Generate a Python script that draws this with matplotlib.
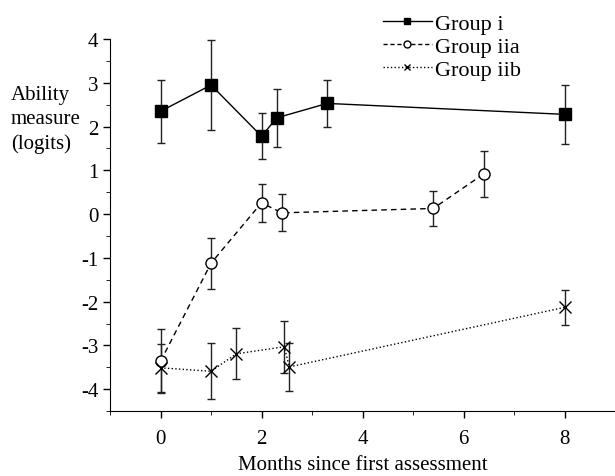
import matplotlib.pyplot as plt
from matplotlib.lines import Line2D

# valeurs (logits)
x_i = [0, 1, 2, 2.3, 3.3, 8]
y_i = [2.35, 2.95, 1.78, 2.2, 2.53, 2.28]
e_i = [0.72, 1.03, 0.53, 0.67, 0.53, 0.67]

x_iia = [0, 1, 2, 2.4, 5.4, 6.4]
y_iia = [-3.36, -1.12, 0.26, 0.03, 0.13, 0.92]
e_iia = [0.73, 0.58, 0.44, 0.42, 0.4, 0.53]

x_iib = [0, 1, 1.5, 2.45, 2.55, 8]
y_iib = [-3.51, -3.59, -3.19, -3.03, -3.49, -2.13]
e_iib = [0.55, 0.64, 0.58, 0.6, 0.55, 0.4]

plt.rcParams['font.family'] = ['Liberation Serif', 'DejaVu Serif']
plt.rcParams['axes.unicode_minus'] = False

fig = plt.figure(figsize=(6.15, 4.77), dpi=100)
ax = fig.add_axes([0.179, 0.136, 0.821, 0.78])

err_kw = dict(ecolor='#222222', elinewidth=1.0, capsize=3, capthick=1.0)
ax.errorbar(x_i, y_i, yerr=e_i, color='black', ls='-', lw=1.0,
            marker='s', ms=8, mfc='black', mec='black', **err_kw)
ax.errorbar(x_iia, y_iia, yerr=e_iia, color='black', ls='--', lw=1.0,
            dashes=(4, 3), marker='o', ms=8, mfc='white', mec='black', **err_kw)
ax.errorbar(x_iib, y_iib, yerr=e_iib, color='black', ls=':', lw=1.0,
            marker='x', ms=8, mec='black', mew=1.0, **err_kw)

ax.set_xlim(-1, 9)
ax.set_ylim(-4.5, 4)
ax.set_xticks([0, 2, 4, 6, 8])
ax.set_xticks([-1, 1, 3, 5, 7, 9], minor=True)
ax.set_yticks(range(-4, 5))
ax.set_yticks([-4.5, -3.5, -2.5, -1.5, -0.5, 0.5, 1.5, 2.5, 3.5], minor=True)
ax.tick_params(labelsize=15, width=1.0, length=5)
ax.tick_params(which='minor', length=3)
ax.tick_params(axis='x', pad=8)
for s in ['top', 'right']:
    ax.spines[s].set_visible(False)

ax.set_xlabel('Months since first assessment', fontsize=15, labelpad=5)
fig.text(0.018, 0.82, 'Ability\nmeasure\n(logits)', fontsize=15, ha='left', va='top',
         linespacing=1.35)

h1 = Line2D([], [], color='black', ls='-', lw=1.0, marker='s', ms=5, mfc='black')
h2 = Line2D([], [], color='black', ls='--', lw=1.0, dashes=(3, 2), marker='o', ms=5, mfc='white')
h3 = Line2D([], [], color='black', ls=':', lw=1.0, marker='x', ms=5)
fig.legend([h1, h2, h3], ['Group i', 'Group iia', 'Group iib'], loc='upper left',
           bbox_to_anchor=(0.59, 1.012), frameon=False, fontsize=16,
           handlelength=2.2, handletextpad=0.15, labelspacing=0.12)

fig.savefig('out.png', dpi=100)
